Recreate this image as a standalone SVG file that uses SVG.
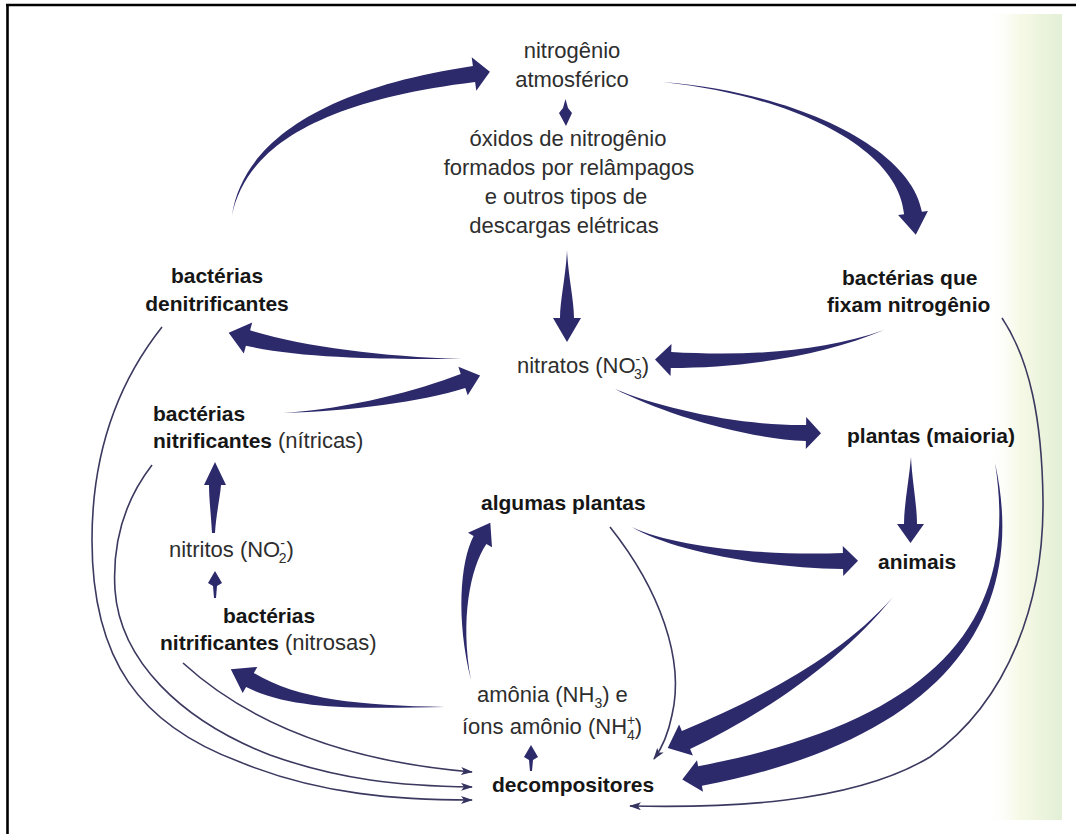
<svg xmlns="http://www.w3.org/2000/svg" width="1076" height="834" viewBox="0 0 1076 834">
<defs>
<linearGradient id="strip" x1="0" y1="0" x2="1" y2="0">
<stop offset="0" stop-color="#ffffff" stop-opacity="0"/>
<stop offset="0.45" stop-color="#f6f9e6"/>
<stop offset="1" stop-color="#e3efd6"/>
</linearGradient>
<marker id="ah" viewBox="0 0 12 8" refX="11" refY="4" markerWidth="12" markerHeight="8" markerUnits="userSpaceOnUse" orient="auto">
<path d="M0,0 L12,4 L0,8 L3,4 Z" fill="#35335f"/>
</marker>
<style>
.r{font-family:"Liberation Sans",Arial,sans-serif;font-size:22px;fill:#2e2e2e}
.b{font-family:"Liberation Sans",Arial,sans-serif;font-size:21px;font-weight:bold;fill:#161616}
.rr{font-weight:normal;font-size:22px;fill:#2e2e2e}
.c{text-anchor:middle}
.fa{fill:#2d2a6c;stroke:none}
.ln{fill:none;stroke:#3b395f;stroke-width:1.6;marker-end:url(#ah)}
.sm{font-size:14px}
</style>
</defs>
<rect x="0" y="0" width="1076" height="834" fill="#ffffff"/>
<rect x="985" y="14" width="77" height="806" fill="url(#strip)"/>
<path d="M6,5 H1076 M7.5,4 V834" stroke="#000000" stroke-width="2.6" fill="none"/>

<g id="atmosferico">
<text class="r c" x="572" y="58">nitrogênio</text>
<text class="r c" x="572" y="87">atmosférico</text>
</g>
<g id="oxidos">
<text class="r c" x="568" y="146">óxidos de nitrogênio</text>
<text class="r c" x="569" y="175">formados por relâmpagos</text>
<text class="r c" x="566" y="204">e outros tipos de</text>
<text class="r c" x="564" y="233">descargas elétricas</text>
</g>
<g id="denitrificantes">
<text class="b c" x="217" y="283">bactérias</text>
<text class="b c" x="217" y="311">denitrificantes</text>
</g>
<g id="fixadoras">
<text class="b" x="842" y="285">bactérias que</text>
<text class="b" x="827" y="312">fixam nitrogênio</text>
</g>
<g id="nitratos">
<text class="r" x="517" y="373">nitratos (NO<tspan class="sm" dy="-9">-</tspan><tspan class="sm" dx="-6.2" dy="15">3</tspan><tspan dy="-6">)</tspan></text>
</g>
<g id="nitricas">
<text class="b" x="153" y="421">bactérias</text>
<text class="b" x="153" y="448">nitrificantes <tspan class="rr">(nítricas)</tspan></text>
</g>
<g id="plantas-maioria">
<text class="b" x="847" y="443">plantas (maioria)</text>
</g>
<g id="algumas-plantas">
<text class="b" x="481" y="510">algumas plantas</text>
</g>
<g id="nitritos">
<text class="r" x="169" y="557">nitritos (NO<tspan class="sm" dy="-9">-</tspan><tspan class="sm" dx="-6.2" dy="15">2</tspan><tspan dy="-6">)</tspan></text>
</g>
<g id="animais">
<text class="b" x="878" y="569">animais</text>
</g>
<g id="nitrosas">
<text class="b" x="223" y="623">bactérias</text>
<text class="b" x="160" y="650">nitrificantes <tspan class="rr">(nitrosas)</tspan></text>
</g>
<g id="amonia">
<text class="r" x="477" y="702">amônia (NH<tspan class="sm" dy="6">3</tspan><tspan dy="-6">) e</tspan></text>
<text class="r" x="462" y="734">íons amônio (NH<tspan class="sm" dy="-9">+</tspan><tspan class="sm" dx="-8.2" dy="15">4</tspan><tspan dy="-6">)</tspan></text>
</g>
<g id="decompositores">
<text class="b" x="492" y="792">decompositores</text>
</g>

<g id="connectors">
<path class="fa" d="M232,215 C247,146 320.8,100.9 475.1,81.9 L476.3,90.8 L489.9,71.8 L471.7,57.2 L472.9,66.1 C319.2,89.1 243,144 232,215 Z"/>
<path class="fa" d="M663,82 C800,97 899,150.8 904.1,214.2 L898.1,214.9 L915.8,234.8 L927.9,211.1 L921.9,211.8 C911,149.2 800,93 663,82 Z"/>
<path class="fa" d="M565.5,99 L568,108 L572,113 L566,126 L559,113 L563,108 Z"/>
<path class="fa" d="M567,250 C568,275 574,300 574,318 L581,318 L567,342 L553,318 L560,318 C560,300 566,275 567,250 Z"/>
<path class="fa" d="M884,330 C819.3,353.1 740,356 671.2,352 L671.5,344 L655,359.5 L670.5,376 L670.8,368 C740,368 820.7,356.9 884,330 Z"/>
<path class="fa" d="M462,359 C380,356.5 301.6,346.2 250.1,330.3 L252.2,322.5 L228.7,332.8 L243.8,353.5 L245.9,345.7 C298.4,357.8 380,359.5 462,359 Z"/>
<path class="fa" d="M283,413 C350,411.5 421.9,401.7 465.3,388.1 L467.7,395.3 L480.1,375.4 L458.4,366.7 L460.7,373.9 C418.1,390.3 350,408.5 283,413 Z"/>
<path class="fa" d="M615,389 C659.2,411.8 740,438 805.9,441 L805.8,449 L821,433.2 L806.2,417 L806.1,425 C740,426 660.8,408.2 615,389 Z"/>
<path class="fa" d="M911,457 C912,480 917,505 917,524 L924,524 L910.5,543 L897,524 L904,524 C904,505 909,480 911,457 Z"/>
<path class="fa" d="M632,527 C669,549.8 760,568 843.1,569 L843.2,576 L858,560.8 L842.8,546 L842.9,553 C760,556 671,546.2 632,527 Z"/>
<path class="fa" d="M471,680 C460,619.6 470.1,568.1 486.4,543.9 L492,547.2 L490.3,522.8 L468,532.8 L473.6,536.1 C459.9,561.9 456,620.4 471,680 Z"/>
<path class="fa" d="M445,707 C360,705.5 297.9,699.8 253.9,673 L257.3,666.9 L230.8,669.3 L242.7,693.1 L246.1,687 C292.1,710.2 360,708.5 445,707 Z"/>
<path class="fa" d="M212,533 C211,515 209,498 209,485 L204,485 L215,462 L226,485 L221,485 C220,498 216,515 215,533 Z"/>
<path class="fa" d="M215,571 L222,583 L217,586 L216,598 L214,598 L213,586 L208,583 Z"/>
<path class="fa" d="M531,745 L538,757 L533,760 L532,771 L530,771 L529,760 L524,757 Z"/>
<path class="fa" d="M893,597 C838.5,658.7 756.7,699.7 681.9,730.9 L679.1,724.5 L667.7,748.1 L692.9,755.5 L690.1,749.1 C763.3,714.3 841.5,661.3 893,597 Z"/>
<path class="fa" d="M995,463 C1020.1,620.9 938.1,720.2 698.1,766.2 L697,760.3 L682.3,779.4 L703,791.7 L701.9,785.8 C941.9,739.8 1029.9,619.1 995,463 Z"/>
<path class="ln" d="M1002,318 C1030,360 1042,420 1043,500 C1044,600 1010,700 930,757 C850,805 720,808 630,806"/>
<path class="ln" d="M610,527 C660,590 685,660 672,715 C668,735 662,748 654,759"/>
<path class="ln" d="M162,327 C120,380 92,450 92,540 C92,660 140,725 240,762 C320,795 400,800 472,800"/>
<path class="ln" d="M152,465 C125,500 112,540 115,590 C120,660 180,720 270,755 C340,780 400,786 472,787"/>
<path class="ln" d="M183,663 C240,715 330,760 472,772"/>
</g>
</svg>
